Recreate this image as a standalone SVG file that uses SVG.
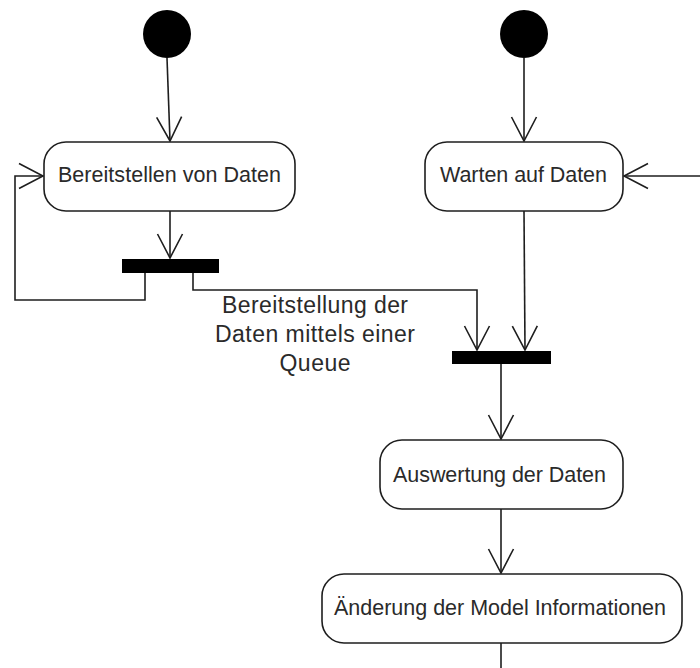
<svg xmlns="http://www.w3.org/2000/svg" width="700" height="668" viewBox="0 0 700 668">
  <style>
    .node rect.action { fill: #ffffff; stroke: #1e1e1e; stroke-width: 1.6; }
    .bar { fill: #000000; }
    .start { fill: #000000; }
    .edge { fill: none; stroke: #1e1e1e; stroke-width: 1.6; }
    .label { font-family: "Liberation Sans", Arial, sans-serif; font-size: 21.5px; fill: #2a2a2a; text-anchor: middle; }
    .note { font-family: "Liberation Sans", Arial, sans-serif; font-size: 23px; fill: #2a2a2a; text-anchor: middle; }
  </style>
  <defs>
    <marker id="open-arrow" markerUnits="userSpaceOnUse" markerWidth="30" markerHeight="30" viewBox="-26 -15 30 30" refX="0" refY="0" orient="auto">
      <path d="M -24 -12.5 L 0 0 L -24 12.5" fill="none" stroke="#1e1e1e" stroke-width="1.6"/>
    </marker>
  </defs>
  <rect width="700" height="668" fill="#ffffff"/>

  <!-- connectors -->
  <g id="connectors">
    <path class="edge" d="M 167 58 L 170 141" marker-end="url(#open-arrow)"/>
    <path class="edge" d="M 524 58 L 524 141" marker-end="url(#open-arrow)"/>
    <path class="edge" d="M 170 211 L 170 258" marker-end="url(#open-arrow)"/>
    <path class="edge" d="M 145 273 L 145 300 L 15 300 L 15 176 L 43 176" marker-end="url(#open-arrow)"/>
    <path class="edge" d="M 193 273 L 193 290 L 477 290 L 477 350" marker-end="url(#open-arrow)"/>
    <path class="edge" d="M 524 211 L 525 350" marker-end="url(#open-arrow)"/>
    <path class="edge" d="M 700 176 L 624 176" marker-end="url(#open-arrow)"/>
    <path class="edge" d="M 501 364 L 501 439" marker-end="url(#open-arrow)"/>
    <path class="edge" d="M 501 509 L 501 573" marker-end="url(#open-arrow)"/>
    <path class="edge" d="M 501 643 L 501 668"/>
    <g id="queue-label">
      <text class="note" x="315" y="313" textLength="186" lengthAdjust="spacing">Bereitstellung der</text>
      <text class="note" x="315" y="342" textLength="200" lengthAdjust="spacing">Daten mittels einer</text>
      <text class="note" x="315" y="371" textLength="71" lengthAdjust="spacing">Queue</text>
    </g>
  </g>

  <!-- start nodes -->
  <g id="start-left" class="node"><circle class="start" cx="167" cy="34" r="24"/></g>
  <g id="start-right" class="node"><circle class="start" cx="524" cy="34" r="24"/></g>

  <!-- actions -->
  <g id="bereitstellen" class="node">
    <rect class="action" x="44" y="142" width="251" height="69" rx="22" ry="22"/>
    <text class="label" x="169.5" y="182" textLength="223" lengthAdjust="spacing">Bereitstellen von Daten</text>
  </g>
  <g id="warten" class="node">
    <rect class="action" x="425" y="142" width="198" height="69" rx="22" ry="22"/>
    <text class="label" x="523.5" y="182" textLength="167" lengthAdjust="spacing">Warten auf Daten</text>
  </g>
  <g id="auswertung" class="node">
    <rect class="action" x="380" y="440" width="243" height="69" rx="22" ry="22"/>
    <text class="label" x="499.5" y="482" textLength="213" lengthAdjust="spacing">Auswertung der Daten</text>
  </g>
  <g id="aenderung" class="node">
    <rect class="action" x="322" y="574" width="360" height="69" rx="22" ry="22"/>
    <text class="label" x="500" y="615" textLength="332" lengthAdjust="spacing">Änderung der Model Informationen</text>
  </g>

  <!-- fork and join bars -->
  <g id="fork" class="node"><rect class="bar" x="122" y="259" width="97" height="14"/></g>
  <g id="join" class="node"><rect class="bar" x="452" y="351" width="99" height="13"/></g>
</svg>
